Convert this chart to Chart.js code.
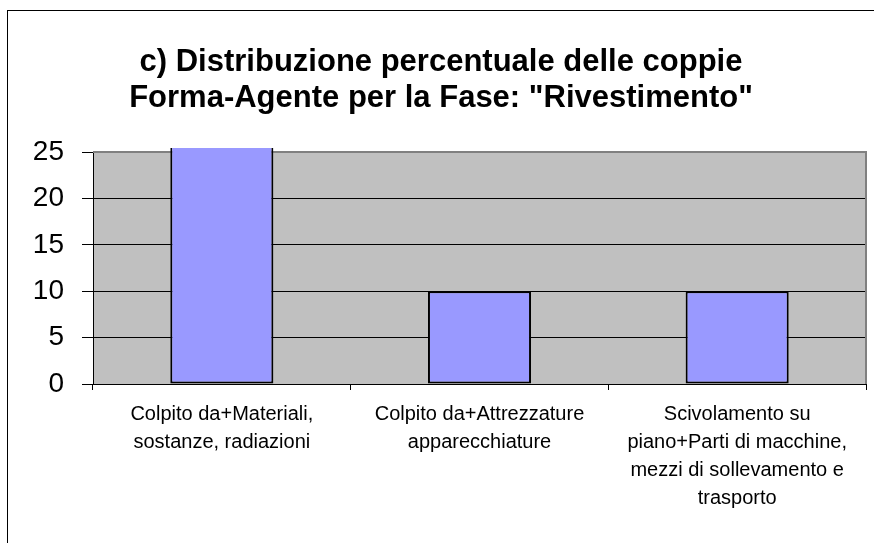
<!DOCTYPE html>
<html>
<head>
<meta charset="utf-8">
<script src="https://cdn.jsdelivr.net/npm/chart.js@4.4.1/dist/chart.umd.min.js"></script>
<style>
  html, body { margin: 0; padding: 0; background: #ffffff; overflow: hidden; }
  canvas { display: block; }
</style>
</head>
<body>
<canvas id="c" width="874" height="543"></canvas>
<script>
const titleLines = ['c) Distribuzione percentuale delle coppie', 'Forma-Agente per la Fase: "Rivestimento"'];
const categories = [
  ['Colpito da+Materiali,', 'sostanze, radiazioni'],
  ['Colpito da+Attrezzature', 'apparecchiature'],
  ['Scivolamento su', 'piano+Parti di macchine,', 'mezzi di sollevamento e', 'trasporto']
];
const percentValues = [80, 10, 10];
const yMin = 0;
const yMax = 25;
const yStep = 5;

const FONT = '"Liberation Sans", Arial, sans-serif';

const decor = {
  id: 'decor',
  beforeDraw(chart) {
    const ctx = chart.ctx;
    const a = chart.chartArea;
    ctx.save();
    ctx.fillStyle = '#ffffff';
    ctx.fillRect(0, 0, chart.width, chart.height);
    ctx.strokeStyle = '#000000';
    ctx.lineWidth = 1;
    ctx.strokeRect(7.5, 10.5, 900, 600);
    ctx.fillStyle = '#C0C0C0';
    ctx.fillRect(a.left, a.top, a.right - a.left, a.bottom - a.top);
    ctx.restore();
  },
  beforeDatasetsDraw(chart) {
    const ctx = chart.ctx;
    const a = chart.chartArea;
    ctx.save();
    ctx.strokeStyle = '#808080';
    ctx.lineWidth = 2;
    ctx.beginPath();
    ctx.moveTo(a.left, a.top);
    ctx.lineTo(a.right, a.top);
    ctx.lineTo(a.right, a.bottom);
    ctx.stroke();
    ctx.restore();
  }
};

new Chart(document.getElementById('c'), {
  type: 'bar',
  data: {
    labels: categories,
    datasets: [{
      data: percentValues,
      backgroundColor: '#9999FF',
      borderColor: '#000000',
      borderWidth: 2,
      borderSkipped: false,
      barPercentage: 0.4,
      categoryPercentage: 1.0,
      clip: { left: 0, right: 0, top: 4, bottom: 0 }
    }]
  },
  options: {
    responsive: false,
    animation: false,
    devicePixelRatio: 1,
    layout: { padding: { left: 16, right: 8, top: 0, bottom: 0 } },
    plugins: {
      legend: { display: false },
      tooltip: { enabled: false },
      title: {
        display: true,
        text: titleLines,
        color: '#000000',
        font: { family: FONT, size: 31, weight: 'bold', lineHeight: '36px' },
        padding: { top: 44, bottom: 36 }
      }
    },
    scales: {
      x: {
        grid: { offset: true, drawOnChartArea: false, drawTicks: true, tickLength: 6, color: '#000000', lineWidth: 1 },
        border: { display: true, color: '#000000', width: 1 },
        ticks: {
          autoSkip: false, maxRotation: 0, minRotation: 0,
          color: '#000000', padding: 10,
          font: { family: FONT, size: 20, lineHeight: '28px' }
        },
        afterFit(scale) { scale.height = 159; }
      },
      y: {
        min: yMin, max: yMax,
        grid: {
          color: (ctx) => (ctx.tick && ctx.tick.value === yMax) ? 'rgba(0,0,0,0)' : '#000000',
          tickColor: '#000000', tickLength: 11, lineWidth: 1
        },
        border: { display: true, color: '#000000', width: 1 },
        ticks: {
          stepSize: yStep, color: '#000000', padding: 18,
          font: { family: FONT, size: 28 }
        },
        afterFit(scale) { scale.width = 77; }
      }
    }
  },
  plugins: [decor]
});
</script>
</body>
</html>
